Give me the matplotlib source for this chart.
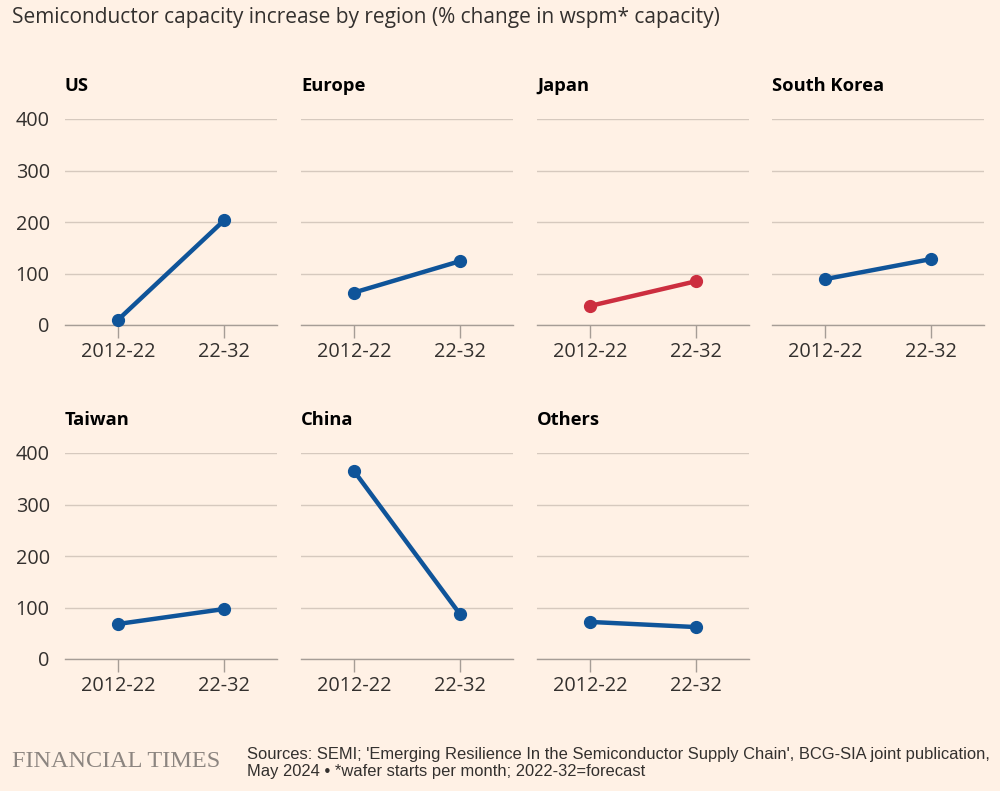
import matplotlib
matplotlib.use('Agg')
import matplotlib.pyplot as plt

# Data
regions = ['US', 'Europe', 'Japan', 'South Korea', 'Taiwan', 'China', 'Others']
periods = ['2012-22', '22-32']
first_decade = [10, 63, 37, 89, 68, 365, 72]
second_decade = [203, 124, 85, 128, 97, 87, 62]
highlight = 'Japan'
yticks = [0, 100, 200, 300, 400]

BG = '#FFF1E5'
BLUE = '#0F5499'
RED = '#CC2E3F'
GRID = '#D6C9BE'
AXIS = '#A69D96'
TEXT = '#33302E'

plt.rcParams['font.family'] = ['Open Sans', 'DejaVu Sans']

fig = plt.figure(figsize=(10, 7.91), dpi=100, facecolor=BG)

col_left = [65, 301, 537, 772]
row_top = [119, 453]
w, h = 212, 206

for i, name in enumerate(regions):
    r, c = divmod(i, 4)
    left = col_left[c] / 1000
    bottom = 1 - (row_top[r] + h) / 791
    ax = fig.add_axes([left, bottom, w / 1000, h / 791])
    ax.set_facecolor(BG)
    color = RED if name == highlight else BLUE
    ax.plot([0, 1], [first_decade[i], second_decade[i]], color=color, lw=3.2,
            marker='o', ms=8.5, solid_capstyle='round', zorder=3, clip_on=False)
    ax.set_xlim(-0.5, 1.5)
    ax.set_ylim(0, 400)
    ax.set_yticks(yticks)
    ax.set_xticks([0, 1])
    ax.set_xticklabels(periods, fontsize=14.3, color=TEXT)
    ax.grid(axis='y', color=GRID, lw=1)
    ax.set_axisbelow(True)
    for s in ['top', 'right', 'left']:
        ax.spines[s].set_visible(False)
    ax.spines['bottom'].set_color(AXIS)
    ax.spines['bottom'].set_linewidth(1)
    ax.tick_params(axis='x', length=9, width=1, color=AXIS, pad=3)
    ax.tick_params(axis='y', length=0, pad=11, labelsize=14.3, labelcolor=TEXT)
    if c != 0:
        ax.set_yticklabels([])
    ax.text(0, 1.115, name, transform=ax.transAxes, fontsize=13.2,
            fontweight='bold', color='#000000', va='bottom', ha='left')

fig.text(0.012, 0.991, 'Semiconductor capacity increase by region (% change in wspm* capacity)',
         fontsize=15, color=TEXT, va='top', ha='left')

fig.text(0.012, 0.037, 'FINANCIAL TIMES', family=['Liberation Serif', 'DejaVu Serif'],
         fontsize=17.5, color='#8C8580', va='center', ha='left')
fig.text(0.247, 0.035,
         "Sources: SEMI; 'Emerging Resilience In the Semiconductor Supply Chain', BCG-SIA joint publication,\n"
         "May 2024 \u2022 *wafer starts per month; 2022-32=forecast",
         family=['Liberation Sans', 'DejaVu Sans'], fontsize=11.9, color=TEXT,
         va='center', ha='left', linespacing=1.15)

fig.savefig('out.png', dpi=100, facecolor=BG)
